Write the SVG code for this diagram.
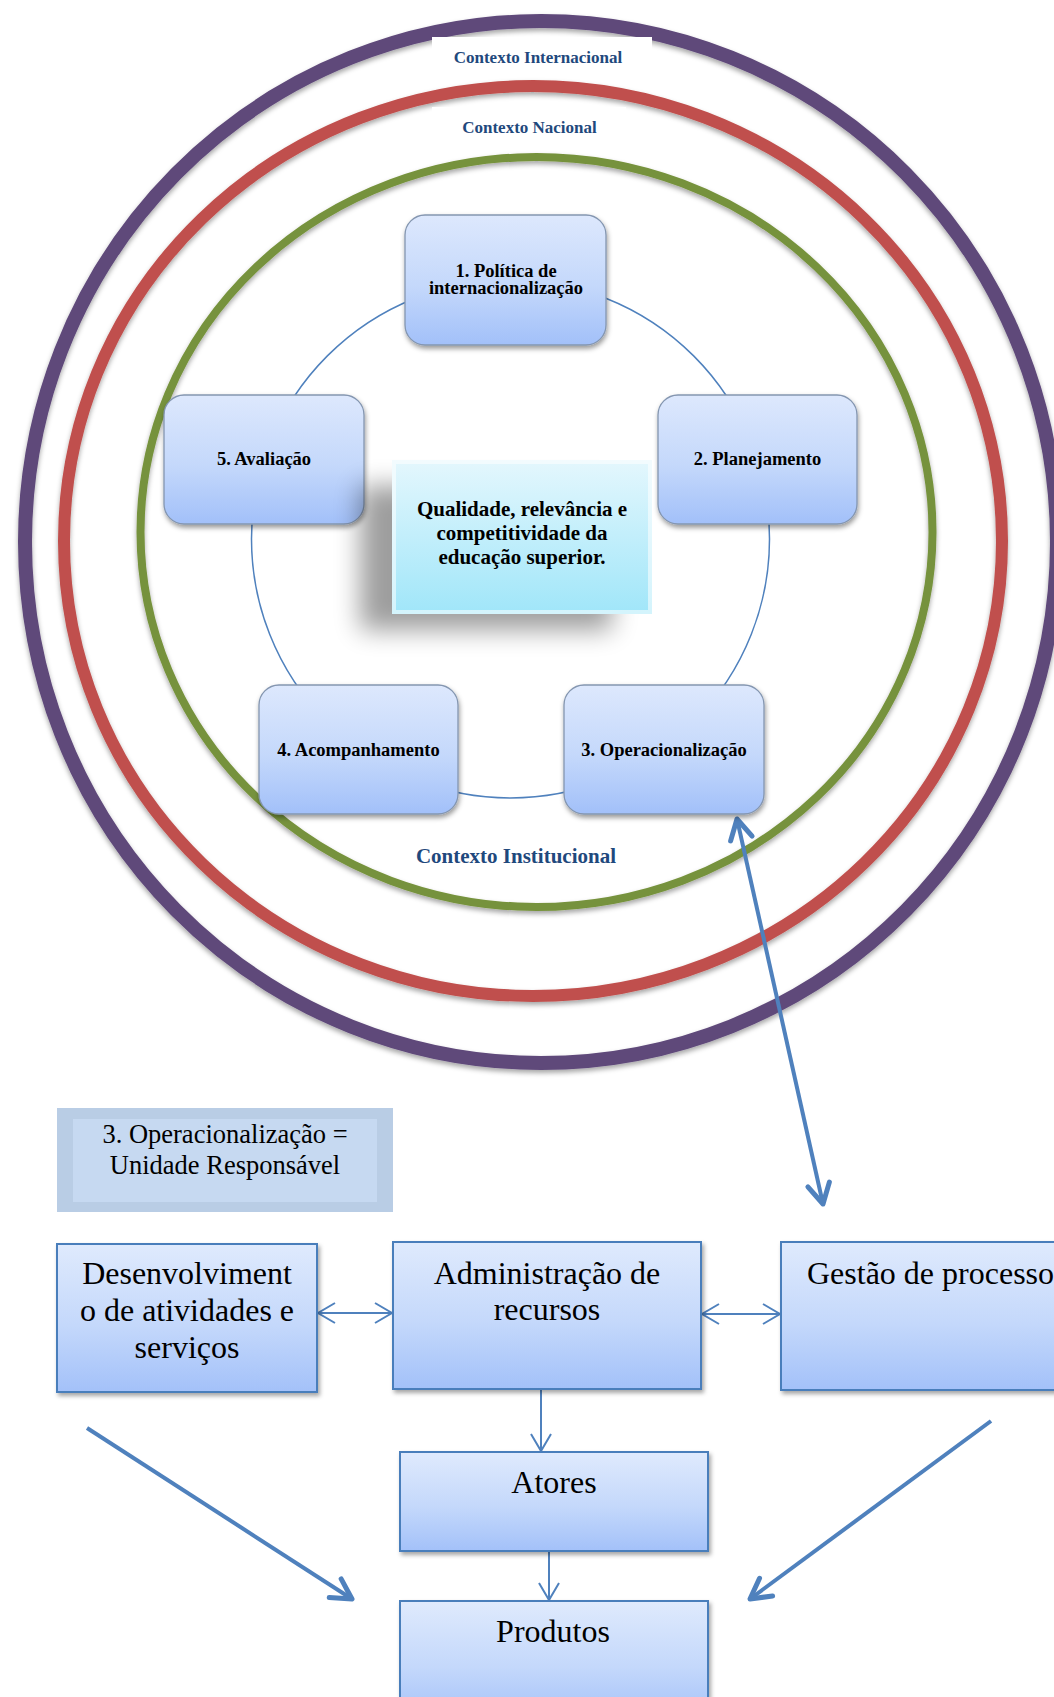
<svg xmlns="http://www.w3.org/2000/svg" width="1054" height="1697" viewBox="0 0 1054 1697">
  <style>
    .ring { fill: none; filter: url(#shRing); }
    .ctx { font-family: "Liberation Serif", "Times New Roman", serif; font-weight: bold; fill: #1f497d; text-anchor: middle; }
    .step { fill: url(#gNode); stroke: #8496b0; stroke-width: 1.3; filter: url(#shNode); }
    .stepTxt { font-family: "Liberation Serif", "Times New Roman", serif; font-weight: bold; font-size: 18.5px; fill: #000; text-anchor: middle; }
    .goalTxt { font-family: "Liberation Serif", "Times New Roman", serif; font-weight: bold; font-size: 21px; fill: #000; text-anchor: middle; }
    .box { fill: url(#gBox); stroke: #4a7ebb; stroke-width: 2; filter: url(#shBox); }
    .boxTxt { font-family: "Liberation Serif", "Times New Roman", serif; font-size: 32px; fill: #000; text-anchor: middle; }
    .unitTxt { font-family: "Liberation Serif", "Times New Roman", serif; font-size: 26.5px; fill: #000; text-anchor: middle; }
    .cycle { fill: none; stroke: #4f81bd; stroke-width: 1.5; }
    .thin { fill: none; stroke: #4f81bd; stroke-width: 2; marker-end: url(#aThin); }
    .both { marker-start: url(#aThin); }
    .thick { fill: none; stroke: #4f81bd; stroke-width: 4; marker-end: url(#aThick); }
  </style>
  <defs>
    <linearGradient id="gNode" x1="0" y1="0" x2="0" y2="1">
      <stop offset="0" stop-color="#dde8fd"/>
      <stop offset="0.55" stop-color="#c4d8fb"/>
      <stop offset="1" stop-color="#a2c0f9"/>
    </linearGradient>
    <linearGradient id="gBox" x1="0" y1="0" x2="0" y2="1">
      <stop offset="0" stop-color="#dfeafd"/>
      <stop offset="0.55" stop-color="#c4d8fb"/>
      <stop offset="1" stop-color="#a3c1f9"/>
    </linearGradient>
    <linearGradient id="gCenter" x1="0" y1="0" x2="0" y2="1">
      <stop offset="0" stop-color="#e4f7fd"/>
      <stop offset="1" stop-color="#a0e6f9"/>
    </linearGradient>
    <filter id="shRing" x="-5%" y="-5%" width="110%" height="112%">
      <feDropShadow dx="0" dy="3" stdDeviation="2.5" flood-color="#000" flood-opacity="0.35"/>
    </filter>
    <filter id="shNode" x="-10%" y="-10%" width="125%" height="130%">
      <feDropShadow dx="1" dy="3" stdDeviation="2.5" flood-color="#000" flood-opacity="0.4"/>
    </filter>
    <filter id="shBox" x="-10%" y="-10%" width="125%" height="130%">
      <feDropShadow dx="2" dy="3" stdDeviation="2" flood-color="#000" flood-opacity="0.35"/>
    </filter>
    <filter id="blurBig" x="-40%" y="-40%" width="180%" height="180%">
      <feGaussianBlur stdDeviation="13"/>
    </filter>
    <marker id="aThin" viewBox="0 0 20 22" refX="18" refY="11" markerWidth="20" markerHeight="22" markerUnits="userSpaceOnUse" orient="auto-start-reverse">
      <path d="M1,1 L18,11 L1,21" fill="none" stroke="#4f81bd" stroke-width="2"/>
    </marker>
    <marker id="aThick" viewBox="0 0 28 30" refX="24" refY="15" markerWidth="28" markerHeight="30" markerUnits="userSpaceOnUse" orient="auto-start-reverse">
      <path d="M4,4 L24,15 L4,26" fill="none" stroke="#4f81bd" stroke-width="5" stroke-linecap="round" stroke-linejoin="round"/>
    </marker>
  </defs>

  <rect width="1054" height="1697" fill="#fff"/>

  <!-- context rings -->
  <g id="contexts">
    <ellipse class="ring" cx="541" cy="542" rx="516" ry="521" stroke="#5f497a" stroke-width="14"/>
    <ellipse class="ring" cx="533" cy="541" rx="469" ry="455" stroke="#c0504d" stroke-width="12"/>
    <ellipse class="ring" cx="536.5" cy="532" rx="396" ry="375" stroke="#76923c" stroke-width="8"/>
  </g>

  <g id="label-internacional">
    <rect x="432" y="37" width="220" height="40" fill="#fff"/>
    <text class="ctx" x="538" y="63" font-size="17">Contexto Internacional</text>
  </g>
  <g id="label-nacional">
    <rect x="432" y="107" width="194" height="40" fill="#fff"/>
    <text class="ctx" x="529.5" y="133" font-size="17">Contexto Nacional</text>
  </g>
  <g id="label-institucional">
    <text class="ctx" x="516" y="863" font-size="21">Contexto Institucional</text>
  </g>

  <!-- connectors -->
  <g id="connectors">
    <circle class="cycle" cx="510.5" cy="539" r="259"/>
    <line class="thin both" x1="318" y1="1313" x2="392" y2="1313"/>
    <line class="thin both" x1="702" y1="1314" x2="780" y2="1314"/>
    <line class="thin" x1="541" y1="1390" x2="541" y2="1451"/>
    <line class="thin" x1="549" y1="1552" x2="549" y2="1600"/>
    <line class="thick" x1="823" y1="1204" x2="737" y2="819" style="marker-start:url(#aThick)"/>
    <line class="thick" x1="87" y1="1428" x2="352" y2="1599"/>
    <line class="thick" x1="991" y1="1421" x2="750" y2="1599"/>
  </g>

  <!-- cycle steps -->
  <g id="step-1">
    <rect class="step" x="405" y="215" width="201" height="130" rx="20"/>
    <text class="stepTxt" x="506" y="277">1. Política de</text>
    <text class="stepTxt" x="506" y="294">internacionalização</text>
  </g>
  <g id="step-2">
    <rect class="step" x="658" y="395" width="199" height="129" rx="20"/>
    <text class="stepTxt" x="757.5" y="465">2. Planejamento</text>
  </g>
  <g id="step-3">
    <rect class="step" x="564" y="685" width="200" height="129" rx="20"/>
    <text class="stepTxt" x="664" y="756">3. Operacionalização</text>
  </g>
  <g id="step-4">
    <rect class="step" x="259" y="685" width="199" height="129" rx="20"/>
    <text class="stepTxt" x="358.5" y="756">4. Acompanhamento</text>
  </g>
  <g id="step-5">
    <rect class="step" x="164" y="395" width="200" height="129" rx="20"/>
    <text class="stepTxt" x="264" y="465">5. Avaliação</text>
  </g>

  <!-- central goal with its soft cast shadow -->
  <g id="goal">
    <rect x="360" y="486" width="252" height="144" fill="#000" opacity="0.38" filter="url(#blurBig)"/>
    <rect x="392" y="460" width="260" height="154" fill="url(#gCenter)"/>
    <rect x="394" y="462" width="256" height="150" fill="none" stroke="#ffffff" stroke-opacity="0.55" stroke-width="4"/>
    <text class="goalTxt" x="522" y="516">Qualidade, relevância e</text>
    <text class="goalTxt" x="522" y="540">competitividade da</text>
    <text class="goalTxt" x="522" y="564">educação superior.</text>
  </g>

  <!-- unit heading -->
  <g id="unit">
    <rect x="57" y="1108" width="336" height="104" fill="#b9cde5"/>
    <rect x="73" y="1119" width="304" height="83" fill="#c6d9f1"/>
    <text class="unitTxt" x="225" y="1143">3. Operacionalização =</text>
    <text class="unitTxt" x="225" y="1174">Unidade Responsável</text>
  </g>

  <g id="desenvolvimento">
    <rect class="box" x="57" y="1244" width="260" height="148"/>
    <text class="boxTxt" x="187" y="1284">Desenvolviment</text>
    <text class="boxTxt" x="187" y="1321">o de atividades e</text>
    <text class="boxTxt" x="187" y="1358">serviços</text>
  </g>
  <g id="administracao">
    <rect class="box" x="393" y="1242" width="308" height="147"/>
    <text class="boxTxt" x="547" y="1284">Administração de</text>
    <text class="boxTxt" x="547" y="1320">recursos</text>
  </g>
  <g id="gestao">
    <rect class="box" x="781" y="1242" width="290" height="148"/>
    <text class="boxTxt" x="807" y="1284" style="text-anchor:start">Gestão de processo</text>
  </g>
  <g id="atores">
    <rect class="box" x="400" y="1452" width="308" height="99"/>
    <text class="boxTxt" x="554" y="1493">Atores</text>
  </g>
  <g id="produtos">
    <rect class="box" x="400" y="1601" width="308" height="120"/>
    <text class="boxTxt" x="553" y="1642">Produtos</text>
  </g>
</svg>
